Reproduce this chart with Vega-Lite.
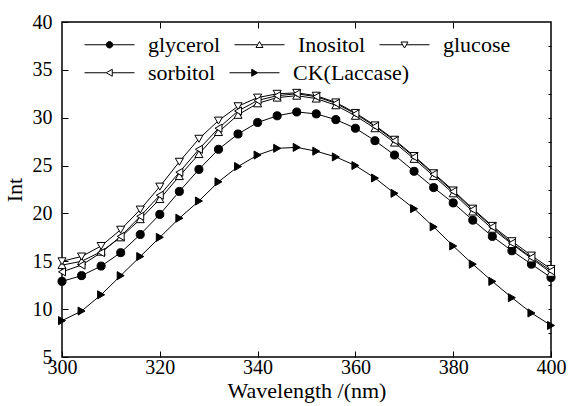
{
  "$schema": "https://vega.github.io/schema/vega-lite/v6.json",
  "width": 489,
  "height": 335,
  "autosize": "none",
  "padding": {"left": 62, "top": 22, "right": 17, "bottom": 49},
  "background": "white",
  "config": {
    "view": {"stroke": "black", "strokeWidth": 1.5},
    "font": "Liberation Serif",
    "axis": {"grid": false, "domain": false, "labelFont": "Liberation Serif", "labelFontSize": 20, "labelColor": "black", "titleFont": "Liberation Serif", "titleFontSize": 22, "titleFontWeight": "normal", "titleColor": "black", "tickColor": "black", "tickWidth": 1},
    "legend": {"orient": "none", "legendX": 22, "direction": "horizontal", "title": null, "symbolSize": 2500, "labelFont": "Liberation Serif", "labelFontSize": 22, "labelColor": "black", "labelOffset": 13, "columnPadding": 11, "symbolStrokeWidth": 1, "symbolStrokeColor": "black", "symbolOpacity": 1}
  },
  "data": {"values": [
    {"w":300,"s":"glycerol","v":12.9},{"w":304,"s":"glycerol","v":13.5},{"w":308,"s":"glycerol","v":14.5},{"w":312,"s":"glycerol","v":15.9},{"w":316,"s":"glycerol","v":17.8},{"w":320,"s":"glycerol","v":19.9},{"w":324,"s":"glycerol","v":22.3},{"w":328,"s":"glycerol","v":24.6},{"w":332,"s":"glycerol","v":26.7},{"w":336,"s":"glycerol","v":28.3},{"w":340,"s":"glycerol","v":29.5},{"w":344,"s":"glycerol","v":30.2},{"w":348,"s":"glycerol","v":30.6},{"w":352,"s":"glycerol","v":30.4},{"w":356,"s":"glycerol","v":29.8},{"w":360,"s":"glycerol","v":28.9},{"w":364,"s":"glycerol","v":27.6},{"w":368,"s":"glycerol","v":26.1},{"w":372,"s":"glycerol","v":24.4},{"w":376,"s":"glycerol","v":22.7},{"w":380,"s":"glycerol","v":21.1},{"w":384,"s":"glycerol","v":19.3},{"w":388,"s":"glycerol","v":17.6},{"w":392,"s":"glycerol","v":16.1},{"w":396,"s":"glycerol","v":14.7},{"w":400,"s":"glycerol","v":13.3},
    {"w":300,"s":"Inositol","v":14.6},{"w":304,"s":"Inositol","v":15.0},{"w":308,"s":"Inositol","v":16.0},{"w":312,"s":"Inositol","v":17.5},{"w":316,"s":"Inositol","v":19.4},{"w":320,"s":"Inositol","v":21.5},{"w":324,"s":"Inositol","v":23.9},{"w":328,"s":"Inositol","v":26.2},{"w":332,"s":"Inositol","v":28.5},{"w":336,"s":"Inositol","v":30.3},{"w":340,"s":"Inositol","v":31.5},{"w":344,"s":"Inositol","v":32.1},{"w":348,"s":"Inositol","v":32.3},{"w":352,"s":"Inositol","v":32.0},{"w":356,"s":"Inositol","v":31.3},{"w":360,"s":"Inositol","v":30.2},{"w":364,"s":"Inositol","v":28.9},{"w":368,"s":"Inositol","v":27.4},{"w":372,"s":"Inositol","v":25.7},{"w":376,"s":"Inositol","v":23.9},{"w":380,"s":"Inositol","v":22.1},{"w":384,"s":"Inositol","v":20.2},{"w":388,"s":"Inositol","v":18.4},{"w":392,"s":"Inositol","v":16.8},{"w":396,"s":"Inositol","v":15.3},{"w":400,"s":"Inositol","v":13.8},
    {"w":300,"s":"glucose","v":15.0},{"w":304,"s":"glucose","v":15.5},{"w":308,"s":"glucose","v":16.6},{"w":312,"s":"glucose","v":18.3},{"w":316,"s":"glucose","v":20.4},{"w":320,"s":"glucose","v":22.8},{"w":324,"s":"glucose","v":25.4},{"w":328,"s":"glucose","v":27.8},{"w":332,"s":"glucose","v":29.7},{"w":336,"s":"glucose","v":31.2},{"w":340,"s":"glucose","v":32.1},{"w":344,"s":"glucose","v":32.5},{"w":348,"s":"glucose","v":32.6},{"w":352,"s":"glucose","v":32.3},{"w":356,"s":"glucose","v":31.6},{"w":360,"s":"glucose","v":30.5},{"w":364,"s":"glucose","v":29.2},{"w":368,"s":"glucose","v":27.7},{"w":372,"s":"glucose","v":26.0},{"w":376,"s":"glucose","v":24.2},{"w":380,"s":"glucose","v":22.4},{"w":384,"s":"glucose","v":20.5},{"w":388,"s":"glucose","v":18.7},{"w":392,"s":"glucose","v":17.1},{"w":396,"s":"glucose","v":15.6},{"w":400,"s":"glucose","v":14.2},
    {"w":300,"s":"sorbitol","v":13.9},{"w":304,"s":"sorbitol","v":14.6},{"w":308,"s":"sorbitol","v":15.9},{"w":312,"s":"sorbitol","v":17.6},{"w":316,"s":"sorbitol","v":19.7},{"w":320,"s":"sorbitol","v":21.9},{"w":324,"s":"sorbitol","v":24.3},{"w":328,"s":"sorbitol","v":26.7},{"w":332,"s":"sorbitol","v":28.9},{"w":336,"s":"sorbitol","v":30.7},{"w":340,"s":"sorbitol","v":31.8},{"w":344,"s":"sorbitol","v":32.3},{"w":348,"s":"sorbitol","v":32.5},{"w":352,"s":"sorbitol","v":32.2},{"w":356,"s":"sorbitol","v":31.5},{"w":360,"s":"sorbitol","v":30.4},{"w":364,"s":"sorbitol","v":29.1},{"w":368,"s":"sorbitol","v":27.6},{"w":372,"s":"sorbitol","v":25.9},{"w":376,"s":"sorbitol","v":24.1},{"w":380,"s":"sorbitol","v":22.3},{"w":384,"s":"sorbitol","v":20.4},{"w":388,"s":"sorbitol","v":18.6},{"w":392,"s":"sorbitol","v":16.9},{"w":396,"s":"sorbitol","v":15.4},{"w":400,"s":"sorbitol","v":14.0},
    {"w":300,"s":"CK(Laccase)","v":8.8},{"w":304,"s":"CK(Laccase)","v":9.8},{"w":308,"s":"CK(Laccase)","v":11.5},{"w":312,"s":"CK(Laccase)","v":13.5},{"w":316,"s":"CK(Laccase)","v":15.5},{"w":320,"s":"CK(Laccase)","v":17.5},{"w":324,"s":"CK(Laccase)","v":19.5},{"w":328,"s":"CK(Laccase)","v":21.3},{"w":332,"s":"CK(Laccase)","v":23.3},{"w":336,"s":"CK(Laccase)","v":24.9},{"w":340,"s":"CK(Laccase)","v":26.1},{"w":344,"s":"CK(Laccase)","v":26.8},{"w":348,"s":"CK(Laccase)","v":26.9},{"w":352,"s":"CK(Laccase)","v":26.5},{"w":356,"s":"CK(Laccase)","v":25.9},{"w":360,"s":"CK(Laccase)","v":25.0},{"w":364,"s":"CK(Laccase)","v":23.7},{"w":368,"s":"CK(Laccase)","v":22.1},{"w":372,"s":"CK(Laccase)","v":20.5},{"w":376,"s":"CK(Laccase)","v":18.6},{"w":380,"s":"CK(Laccase)","v":16.6},{"w":384,"s":"CK(Laccase)","v":14.7},{"w":388,"s":"CK(Laccase)","v":12.9},{"w":392,"s":"CK(Laccase)","v":11.2},{"w":396,"s":"CK(Laccase)","v":9.6},{"w":400,"s":"CK(Laccase)","v":8.3}
  ]},
  "layer": [
    {
      "mark": {"type": "line", "color": "black", "strokeWidth": 1},
      "encoding": {
        "x": {"field": "w", "type": "quantitative", "scale": {"domain": [300, 400], "nice": false, "zero": false},
              "axis": {"orient": "bottom", "title": "Wavelength /(nm)", "values": [300, 320, 340, 360, 380, 400], "tickSize": -6, "labelPadding": 6, "titlePadding": 3, "labelFlush": false}},
        "y": {"field": "v", "type": "quantitative", "scale": {"domain": [5, 40], "nice": false, "zero": false},
              "axis": {"orient": "left", "title": "Int", "values": [5, 10, 15, 20, 25, 30, 35, 40], "tickSize": -6, "labelPadding": 16, "titlePadding": 6, "labelFlush": false}},
        "detail": {"field": "s"}
      }
    },
    {
      "mark": {"type": "point", "filled": true, "stroke": "black", "strokeWidth": 1, "opacity": 1},
      "encoding": {
        "x": {"field": "w", "type": "quantitative",
              "axis": {"orient": "top", "title": null, "labels": false, "values": [320, 340, 360, 380], "tickSize": -6}},
        "y": {"field": "v", "type": "quantitative",
              "axis": {"orient": "right", "title": null, "labels": false, "values": [7.5, 10, 12.5, 15, 17.5, 20, 22.5, 25, 27.5, 30, 32.5, 35, 37.5], "tickSize": -3}},
        "shape": {"field": "s", "type": "nominal",
                  "scale": {"domain": ["glycerol", "Inositol", "glucose", "sorbitol", "CK(Laccase)"], "range": ["circle", "triangle-up", "triangle-down", "triangle-left", "triangle-right"]},
                  "legend": null},
        "fill": {"field": "s", "type": "nominal",
                 "scale": {"domain": ["glycerol", "Inositol", "glucose", "sorbitol", "CK(Laccase)"], "range": ["black", "white", "white", "white", "black"]},
                 "legend": null},
        "size": {"value": 65}
      }
    },
    {
      "transform": [{"filter": "false"}],
      "mark": {"type": "point", "filled": false, "strokeWidth": 1, "opacity": 1},
      "encoding": {
        "x": {"field": "w", "type": "quantitative", "axis": null},
        "y": {"field": "v", "type": "quantitative", "axis": null},
        "shape": {"field": "s", "type": "nominal",
                  "scale": {"domain": ["glycerol", "Inositol", "glucose"],
                            "range": [
                              "M-1,0L-0.13,0M0.13,0L1,0M0.13,0L0.113,0.065L0.065,0.113L0,0.13L-0.065,0.113L-0.113,0.065L-0.13,0L-0.113,-0.065L-0.065,-0.113L0,-0.13L0.065,-0.113L0.113,-0.065Z",
                              "M-1,0L-0.075,0M0.075,0L1,0M0,-0.13L0.14,0.11L-0.14,0.11Z",
                              "M-1,0L-0.075,0M0.075,0L1,0M0,0.13L0.14,-0.11L-0.14,-0.11Z"
                            ]},
                  "legend": {"legendY": -3}},
        "fill": {"field": "s", "type": "nominal",
                 "scale": {"domain": ["glycerol", "Inositol", "glucose"], "range": ["black", "white", "white"]},
                 "legend": {"legendY": -3}},
        "stroke": {"field": "s", "type": "nominal",
                 "scale": {"domain": ["glycerol", "Inositol", "glucose"], "range": ["black", "black", "black"]},
                 "legend": {"legendY": -3}},
        "size": {"value": 2500}
      }
    },
    {
      "transform": [{"filter": "false"}],
      "mark": {"type": "point", "filled": false, "strokeWidth": 1, "opacity": 1},
      "encoding": {
        "x": {"field": "w", "type": "quantitative", "axis": null},
        "y": {"field": "v", "type": "quantitative", "axis": null},
        "shape": {"field": "s", "type": "nominal",
                  "scale": {"domain": ["sorbitol", "CK(Laccase)"],
                            "range": [
                              "M-1,0L-0.13,0M0.11,0L1,0M-0.13,0L0.11,-0.14L0.11,0.14Z",
                              "M-1,0L-0.11,0M0.13,0L1,0M0.13,0L-0.11,-0.14L-0.11,0.14Z"
                            ]},
                  "legend": {"legendY": 25}},
        "fill": {"field": "s", "type": "nominal",
                 "scale": {"domain": ["sorbitol", "CK(Laccase)"], "range": ["white", "black"]},
                 "legend": {"legendY": 25}},
        "stroke": {"field": "s", "type": "nominal",
                 "scale": {"domain": ["sorbitol", "CK(Laccase)"], "range": ["black", "black"]},
                 "legend": {"legendY": 25}},
        "size": {"value": 2500}
      }
    }
  ],
  "resolve": {"axis": {"x": "independent", "y": "independent"}, "scale": {"shape": "independent", "fill": "independent", "stroke": "independent"}}
}
